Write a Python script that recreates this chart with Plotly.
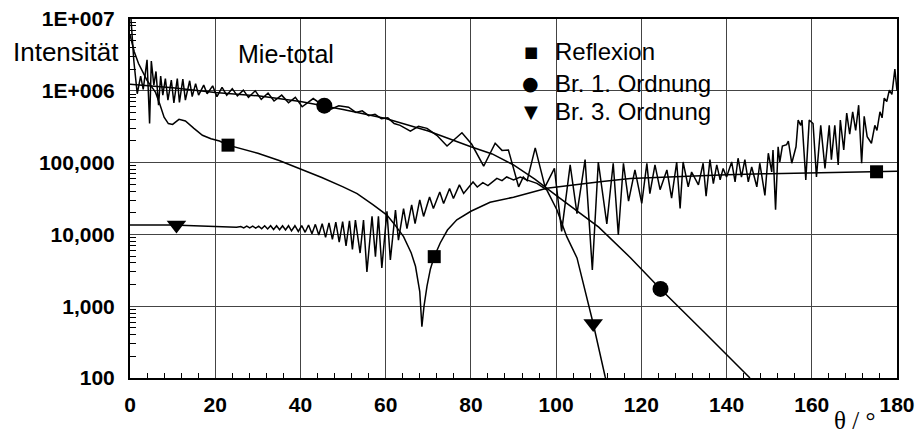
import plotly.graph_objects as go

# ---------------- data ----------------
# Mie-total (strongly oscillating curve)
mie_angle = [0.0, 0.9, 1.7, 2.5, 3.1, 4.0, 4.6, 5.0, 5.6, 6.1, 6.7, 7.2, 7.7, 8.3, 8.9, 9.7,
             10.3, 11.1, 11.6, 12.4, 13.0, 14.0, 14.6, 15.4, 16.1, 17.3, 18.1, 19.4, 20.4,
             21.6, 22.7, 24.0, 25.2, 26.6, 27.8, 29.4, 30.8, 32.4, 33.8, 35.6, 37.2, 38.8,
             40.4, 43.0, 45.2, 47.0, 49.0, 51.3, 53.0, 54.5, 56.0, 57.5, 59.0, 60.5, 62.0,
             63.4, 65.8, 67.7, 69.7, 72.0, 74.4, 77.9, 80.2, 83.0, 85.7, 87.3, 88.8, 91.2,
             92.3, 93.2, 95.1, 97.4, 99.6, 101.3, 103.3, 104.9, 106.8, 108.5, 109.9, 111.9,
             113.4, 114.6, 115.8, 117.0, 118.5, 120.1, 121.3, 122.0, 123.2, 124.4, 126.0,
             127.1, 128.3, 129.1, 129.8, 131.0, 131.8, 133.4, 134.5, 135.2, 136.1, 136.9,
             137.7, 138.5, 139.2, 140.0, 141.2, 142.0, 142.7, 143.5, 144.3, 145.1, 145.9,
             147.1, 147.8, 149.0, 149.8, 150.6, 150.9, 151.5, 152.1, 152.5, 153.1, 154.1,
             154.5, 155.3, 156.3, 156.8, 157.4, 157.7, 158.6, 159.4, 160.3, 161.1, 162.1,
             163.1, 164.1, 164.6, 165.4, 166.2, 166.7, 167.5, 168.2, 168.9, 169.6, 170.3,
             171.0, 171.7, 172.3, 173.0, 174.0, 174.8, 175.3, 176.0, 176.5, 177.0, 177.6,
             178.2, 178.8, 179.5, 180.0]
mie_value = [1.6e7, 2.6e6, 9.1e5, 1.6e6, 1.05e6, 2.7e6, 3.5e5, 2.6e6, 1.2e6, 1.86e6, 6.3e5,
             1.6e6, 8.7e5, 1.48e6, 7.4e5, 1.41e6, 6.8e5, 1.48e6, 6.9e5, 1.45e6, 7.4e5, 1.38e6,
             8.3e5, 1.26e6, 8.7e5, 1.2e6, 9.1e5, 1.17e6, 8.3e5, 1.12e6, 8.7e5, 1.07e6, 8.5e5,
             1.02e6, 8.1e5, 1.0e6, 7.6e5, 9.3e5, 7.2e5, 8.7e5, 6.8e5, 8.1e5, 6.0e5, 7.8e5,
             6.3e5, 5.5e5, 6.2e5, 5.9e5, 5.0e5, 5.25e5, 4.5e5, 4.7e5, 4.1e5, 4.2e5, 3.5e5,
             3.3e5, 2.75e5, 3.2e5, 3.0e5, 2.4e5, 1.7e5, 2.6e5, 1.8e5, 8.9e4, 1.86e5, 1.48e5,
             1.5e5, 4.6e4, 6.3e4, 5.6e4, 1.6e5, 4.6e4, 8.3e4, 1.1e4, 9.3e4, 1.95e4, 1.1e5,
             3.2e3, 1.02e5, 1.4e4, 9.8e4, 9.8e3, 9.8e4, 2.9e4, 7.9e4, 2.7e4, 9.8e4, 3.7e4,
             9.3e4, 4.2e4, 7.9e4, 3.2e4, 1.02e5, 2.3e4, 1.02e5, 4.6e4, 7.4e4, 4.9e4, 9.8e4,
             3.4e4, 1.1e5, 5.1e4, 9.3e4, 5.75e4, 8.3e4, 6.3e4, 1.02e5, 5.4e4, 1.15e5, 6.3e4,
             1.1e5, 5.4e4, 8.7e4, 4.6e4, 9.8e4, 3.5e4, 1.35e5, 7.4e4, 1.5e5, 2.2e4, 1.66e5,
             1.02e5, 1.7e5, 1.78e5, 2.0e5, 9.8e4, 1.66e5, 3.9e5, 3.3e5, 3.9e5, 5.75e4, 3.9e5,
             3.5e5, 6.3e4, 3.3e5, 8.3e4, 3.3e5, 1.1e5, 3.3e5, 9.3e4, 3.9e5, 1.5e5, 4.9e5,
             2.5e5, 5.1e5, 2.8e5, 6.3e5, 9.8e4, 4.4e5, 2.3e5, 1.86e5, 3.3e5, 2.8e5, 5.1e5,
             4.2e5, 7.9e5, 7.1e5, 1.02e6, 8.9e5, 2.0e6, 1.0e6]

# Reflexion
refl_angle = [0, 1, 2, 3, 4, 5, 6, 7, 8, 9, 10, 11.5, 13, 15, 17, 19, 21, 23, 26, 30, 35, 40,
              45, 50, 53.3, 57, 60.3, 62, 64.2, 66, 67, 68, 68.5, 69, 69.7, 70.5, 71.4, 72.8,
              74.5, 76.7, 80, 84.5, 90, 97.8, 105, 110.3, 117.4, 130, 140, 150, 160, 170,
              175.2, 180]
refl_value = [6e6, 3.5e6, 2.4e6, 1.8e6, 1.4e6, 1.15e6, 9.5e5, 6.5e5, 4.3e5, 3.5e5, 3.4e5,
              4.0e5, 3.8e5, 3.0e5, 2.4e5, 2.15e5, 2.0e5, 1.75e5, 1.55e5, 1.35e5, 1.07e5,
              8.2e4, 6.2e4, 4.6e4, 3.7e4, 2.6e4, 1.86e4, 1.4e4, 9.3e3, 5.5e3, 3.6e3, 1.6e3,
              5.2e2, 1.0e3, 1.9e3, 3.3e3, 4.9e3, 7.6e3, 1.15e4, 1.6e4, 2.1e4, 2.8e4, 3.3e4,
              4.4e4, 5.0e4, 5.4e4, 6.0e4, 6.5e4, 6.8e4, 7.0e4, 7.2e4, 7.4e4, 7.45e4, 7.6e4]
refl_mark_angle = [23, 71.4, 175.2]
refl_mark_value = [1.75e5, 4.9e3, 7.45e4]

# Brechung 1. Ordnung
br1_angle = [0, 10, 20, 30, 40, 50, 60, 70, 80, 85, 90, 95, 100, 105, 110, 117.5, 124.5,
             135, 145.5]
br1_value = [1.23e6, 1.10e6, 9.5e5, 8.5e5, 7.1e5, 5.5e5, 4.1e5, 2.75e5, 1.66e5, 1.32e5,
             9.3e4, 5.9e4, 3.5e4, 2.1e4, 1.26e4, 4.7e3, 1.74e3, 4.2e2, 1.0e2]
br1_mark_angle = [45.6, 124.5]
br1_mark_value = [6.2e5, 1.74e3]

# Brechung 3. Ordnung
br3_angle = [0, 10, 20, 25, 26.0, 26.7, 27.4, 28.1, 28.8, 29.5, 30.2, 30.9, 31.6, 32.3, 33.0,
             33.7, 34.4, 35.1, 35.8, 36.5, 37.2, 37.9, 38.7, 39.5, 40.3, 41.1, 41.9, 42.7,
             43.5, 44.3, 45.1, 45.9, 46.7, 47.5, 48.3, 49.1, 49.9, 50.7, 51.5, 52.2, 52.9,
             54.0, 54.8, 55.6, 56.8, 57.6, 58.3, 59.1, 60.3, 61.1, 62.3, 63.0, 64.2, 65.0,
             66.1, 66.9, 68.0, 68.9, 70.3, 71.2, 72.7, 73.6, 75.0, 75.9, 77.3, 78.3, 80.5,
             81.5, 82.8, 84.0, 86.1, 87.3, 88.4, 90.0, 91.6, 93.1, 95.5, 97.8, 100.2, 102.5,
             104.9, 108.7, 111.5, 112.5]
br3_value = [1.35e4, 1.35e4, 1.29e4, 1.26e4, 1.29e4, 1.23e4, 1.30e4, 1.23e4, 1.30e4, 1.22e4,
             1.30e4, 1.20e4, 1.32e4, 1.19e4, 1.32e4, 1.17e4, 1.32e4, 1.16e4, 1.32e4, 1.15e4,
             1.32e4, 1.12e4, 1.32e4, 1.10e4, 1.33e4, 1.07e4, 1.35e4, 1.02e4, 1.38e4, 9.8e3,
             1.41e4, 9.1e3, 1.45e4, 8.5e3, 1.48e4, 7.8e3, 1.51e4, 6.9e3, 1.55e4, 6.2e3,
             1.58e4, 5.5e3, 1.58e4, 3.0e3, 1.78e4, 4.9e3, 1.78e4, 3.4e3, 2.09e4, 4.4e3,
             2.19e4, 8.3e3, 2.29e4, 1.2e4, 2.57e4, 1.41e4, 3.02e4, 1.78e4, 3.31e4, 2.29e4,
             3.89e4, 2.69e4, 4.37e4, 3.16e4, 4.9e4, 3.72e4, 5.37e4, 4.57e4, 5.25e4, 4.79e4,
             6.03e4, 5.62e4, 6.31e4, 5.75e4, 6.31e4, 5.75e4, 5.13e4, 4.17e4, 2.19e4, 9.3e3,
             4.7e3, 5.75e2, 1.05e2, 6.3e1]
br3_mark_angle = [10.9, 108.7]
br3_mark_value = [1.35e4, 5.75e2]

# axis texts
y_tick_vals = [1e2, 1e3, 1e4, 1e5, 1e6, 1e7]
y_tick_text = ["100", "1,000", "10,000", "100,000", "1E+006", "1E+007"]
y_minor_vals = [m * 10 ** e for e in range(2, 7) for m in range(2, 10)]
legend_names = ["Reflexion", "Br. 1. Ordnung", "Br. 3. Ordnung"]
legend_symbols = ["■", "●", "▼"]

# ---------------- figure ----------------
FONT = "Arial, 'Liberation Sans', sans-serif"
line = dict(color="black", width=1.5)

fig = go.Figure()
for xs, ys in [(mie_angle, mie_value), (refl_angle, refl_value),
               (br1_angle, br1_value), (br3_angle, br3_value)]:
    fig.add_trace(go.Scatter(x=xs, y=ys, mode="lines", line=line,
                             showlegend=False, hoverinfo="skip"))

marker_sets = [
    (refl_mark_angle, refl_mark_value, "square", 13),
    (br1_mark_angle, br1_mark_value, "circle", 16),
    (br3_mark_angle, br3_mark_value, "triangle-down", 17),
]
for xs, ys, sym, sz in marker_sets:
    fig.add_trace(go.Scatter(x=xs, y=ys, mode="markers",
                             marker=dict(symbol=sym, size=sz, color="black"),
                             showlegend=False, hoverinfo="skip"))

fig.update_layout(
    width=916, height=435,
    margin=dict(l=130, r=19, t=19, b=57),
    paper_bgcolor="white", plot_bgcolor="white",
    font=dict(family=FONT, color="black"),
    showlegend=False,
)

fig.update_xaxes(
    range=[0, 180], tickmode="linear", tick0=0, dtick=20,
    showgrid=True, gridcolor="#444444", gridwidth=1, zeroline=False,
    showline=True, linecolor="black", linewidth=2, mirror=True,
    ticks="", ticklabelstandoff=7,
    tickfont=dict(family=FONT, size=21, color="black", weight="bold"),
    minor=dict(dtick=4, tick0=0, ticks="inside", ticklen=5, tickcolor="black",
               tickwidth=1, showgrid=False),
    automargin=False,
)
fig.update_yaxes(
    type="log", range=[2, 7],
    tickmode="array", tickvals=y_tick_vals, ticktext=y_tick_text,
    showgrid=True, gridcolor="#444444", gridwidth=1, zeroline=False,
    showline=True, linecolor="black", linewidth=2, mirror=True,
    ticks="", ticklabelstandoff=9,
    tickfont=dict(family=FONT, size=21, color="black", weight="bold"),
    minor=dict(tickmode="array", tickvals=y_minor_vals, ticks="inside", ticklen=6,
               tickcolor="black", tickwidth=1, showgrid=False),
    automargin=False,
)

# white boxes behind the texts (they hide the gridlines, not the curves)
fig.add_shape(type="rect", xref="paper", yref="paper", x0=0.486, x1=0.802,
              y0=0.660, y1=0.978, fillcolor="white", line=dict(width=0), layer="between")
fig.add_shape(type="rect", xref="paper", yref="paper", x0=0.125, x1=0.274,
              y0=0.833, y1=0.978, fillcolor="white", line=dict(width=0), layer="between")

# legend box (symbols + texts)
leg_y = [0.9081, 0.8217, 0.7437]
sym_sizes = [15, 19, 18]
for name, sym, yy, ss in zip(legend_names, legend_symbols, leg_y, sym_sizes):
    fig.add_annotation(text=sym, xref="paper", yref="paper", x=0.5228, y=yy,
                       xanchor="center", yanchor="middle", showarrow=False,
                       font=dict(family="'DejaVu Sans', sans-serif", size=ss, color="black"))
    fig.add_annotation(text=name, xref="paper", yref="paper", x=0.5515, y=yy,
                       xanchor="left", yanchor="middle", showarrow=False,
                       font=dict(family=FONT, size=24, color="black"))

fig.add_annotation(text="Intensität", xref="paper", yref="paper", x=-0.012, y=0.9067,
                   xanchor="right", yanchor="middle", showarrow=False,
                   font=dict(family=FONT, size=26, color="black"))
fig.add_annotation(text="Mie-total", xref="paper", yref="paper", x=0.1382, y=0.9025,
                   xanchor="left", yanchor="middle", showarrow=False,
                   font=dict(family=FONT, size=25, color="black"))
fig.add_annotation(text="θ / °", xref="paper", yref="paper", x=0.945, y=-0.119,
                   xanchor="center", yanchor="middle", showarrow=False,
                   font=dict(family="'Liberation Serif', 'Times New Roman', serif",
                             size=25, color="black"))

fig.write_html("out.html", post_script="document.body.style.margin='0';",
               config={"displayModeBar": False})
